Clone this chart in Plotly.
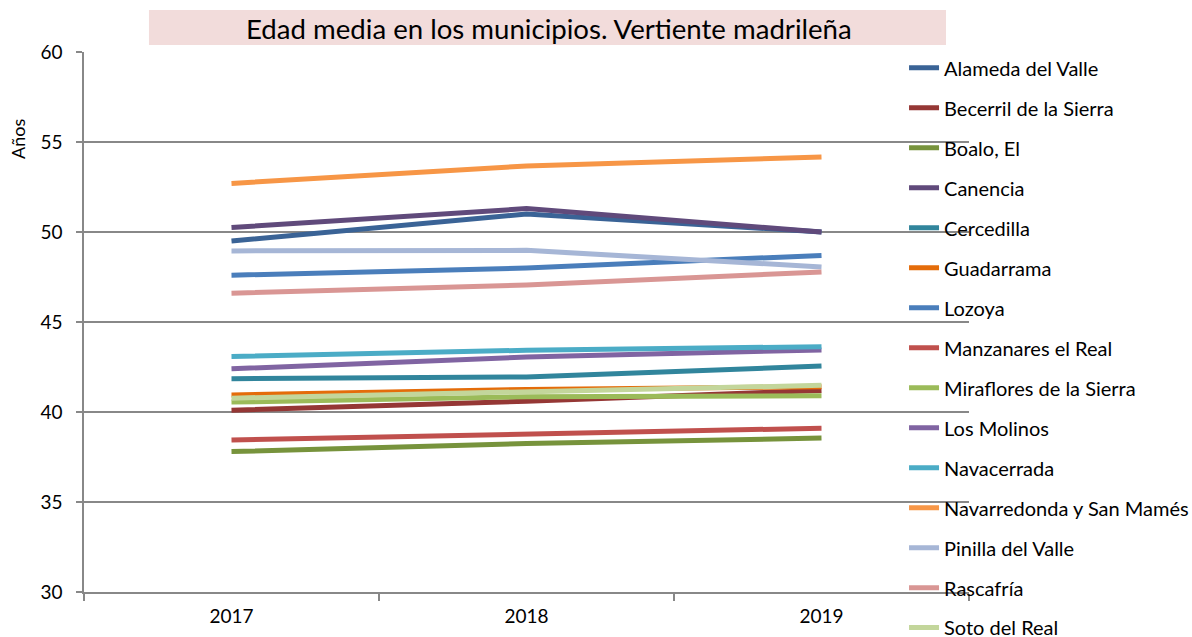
import plotly.graph_objects as go

years = ["2017", "2018", "2019"]

municipios = [
    "Alameda del Valle", "Becerril de la Sierra", "Boalo, El", "Canencia",
    "Cercedilla", "Guadarrama", "Lozoya", "Manzanares el Real",
    "Miraflores de la Sierra", "Los Molinos", "Navacerrada",
    "Navarredonda y San Mamés", "Pinilla del Valle", "Rascafría", "Soto del Real",
]

alameda = [49.5, 51.0, 50.0]
becerril = [40.1, 40.6, 41.2]
boalo = [37.8, 38.25, 38.55]
canencia = [50.25, 51.3, 50.0]
cercedilla = [41.85, 41.95, 42.55]
guadarrama = [40.95, 41.25, 41.4]
lozoya = [47.6, 48.0, 48.7]
manzanares = [38.45, 38.8, 39.1]
miraflores = [40.55, 40.85, 40.9]
molinos = [42.4, 43.05, 43.45]
navacerrada = [43.08, 43.43, 43.63]
navarredonda = [52.7, 53.67, 54.17]
pinilla = [48.95, 48.98, 48.06]
rascafria = [46.6, 47.06, 47.78]
soto = [40.77, 41.15, 41.48]

series = [alameda, becerril, boalo, canencia, cercedilla, guadarrama, lozoya,
          manzanares, miraflores, molinos, navacerrada, navarredonda, pinilla,
          rascafria, soto]

colors = ["#3A6396", "#953735", "#77933C", "#604A7B", "#31859C", "#E46C0A",
          "#4A7EBB", "#C0504D", "#9BBB59", "#8064A2", "#4BACC6", "#F79646",
          "#A6B6D6", "#D99694", "#C3D69B"]

FONT = "Lato"
LEG_FONT = 20

fig = go.Figure()
for i, (name, vals, col) in enumerate(zip(municipios, series, colors)):
    fig.add_trace(go.Scatter(
        x=years, y=vals, mode="lines", name=name, legendgroup=name,
        legend="legend2" if i == len(municipios) - 1 else "legend",
        line=dict(color=col, width=5),
    ))

leg_common = dict(
    xref="paper", yref="paper",
    xanchor="left", yanchor="top", bgcolor="rgba(0,0,0,0)",
    tracegroupgap=11, font=dict(family=FONT, size=LEG_FONT, color="#000000"),
    itemwidth=30, maxheight=600,
)

fig.update_layout(
    width=1192, height=637,
    margin=dict(l=84, r=223, t=52, b=45, autoexpand=False),
    paper_bgcolor="white", plot_bgcolor="white",
    font=dict(family=FONT, size=19, color="#000000"),
    showlegend=True,
    legend=dict(x=0.9266, y=1.007, **leg_common),
    legend2=dict(x=0.9266, y=-0.0296, **leg_common),
    xaxis=dict(
        type="category", range=[-0.5, 2.5], automargin=False,
        showgrid=False, showline=True, linecolor="#888888", linewidth=1.5,
        ticks="outside", tickson="boundaries", ticklen=7, tickcolor="#888888",
        tickwidth=1.5, tickfont=dict(size=19), zeroline=False,
        ticklabelstandoff=6,
    ),
    yaxis=dict(
        range=[30, 60], dtick=5, tick0=30, automargin=False,
        showgrid=True, gridcolor="#888888", gridwidth=1.5,
        showline=True, linecolor="#888888", linewidth=1.5,
        ticks="outside", ticklen=6, tickcolor="#888888", tickwidth=1.5,
        tickfont=dict(size=19), zeroline=False, ticklabelstandoff=10,
    ),
    shapes=[dict(
        type="rect", xref="paper", yref="paper",
        x0=0.0734, x1=0.974, y0=1.013, y1=1.0778,
        fillcolor="#F2DCDB", line=dict(width=0), layer="below",
    )],
    annotations=[
        dict(text="Edad media en los municipios. Vertiente madrileña",
             xref="paper", yref="paper", x=0.5249, y=1.0426,
             xanchor="center", yanchor="middle", showarrow=False,
             font=dict(family=FONT, size=27.6, color="#000000")),
        dict(text="Años", xref="paper", yref="paper", x=-0.0746, y=0.839,
             xanchor="center", yanchor="middle", showarrow=False, textangle=-90,
             font=dict(family=FONT, size=18, color="#000000")),
    ],
)

fig.write_html("out.html", config={"displayModeBar": False},
               post_script="document.body.style.margin='0px';")
